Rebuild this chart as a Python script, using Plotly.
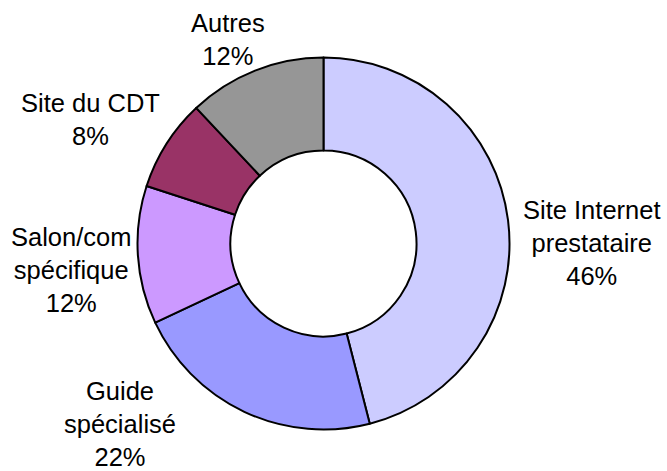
import plotly.graph_objects as go

labels = ["Site Internet<br>prestataire", "Guide<br>spécialisé", "Salon/com<br>spécifique", "Site du CDT", "Autres"]
values = [46, 22, 12, 8, 12]
colors = ["#CCCCFF", "#9999FF", "#CC99FF", "#993366", "#969696"]

# label block centres in pixels (layout only)
label_pos = [(592, 243), (120, 424), (71, 270), (90, 120), (228, 40)]

W, H = 667, 471
FONT = "Liberation Sans, Arial, sans-serif"

fig = go.Figure(go.Pie(
    labels=labels,
    values=values,
    hole=0.5,
    sort=False,
    direction="clockwise",
    rotation=0,
    marker=dict(colors=colors, line=dict(color="black", width=2)),
    textinfo="none",
    showlegend=False,
    hoverinfo="label+value",
    domain=dict(x=[137.5 / W, 509.5 / W], y=[1 - 429.5 / H, 1 - 57.5 / H]),
))

total = sum(values)
annotations = []
for lab, val, (px, py) in zip(labels, values, label_pos):
    pct = round(100 * val / total)
    annotations.append(dict(
        text=f"{lab}<br>{pct}%",
        x=px / W, y=1 - py / H, xref="paper", yref="paper",
        xanchor="center", yanchor="middle", align="center",
        showarrow=False,
        font=dict(family=FONT, size=25.5, color="black"),
    ))

fig.update_layout(
    width=W, height=H,
    margin=dict(l=0, r=0, t=0, b=0),
    paper_bgcolor="white",
    plot_bgcolor="white",
    annotations=annotations,
)

fig.write_html("out.html", config={"displayModeBar": False},
               post_script="document.body.style.margin='0';")
